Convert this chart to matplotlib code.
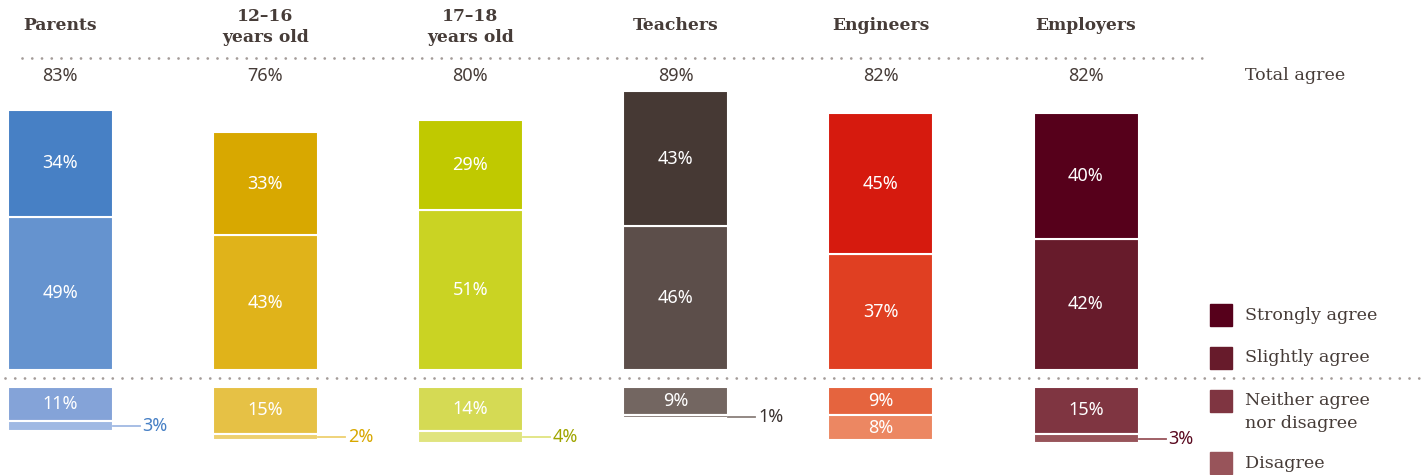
import matplotlib
matplotlib.use("Agg")
import matplotlib.pyplot as plt
from matplotlib.patches import Rectangle

# data
groups = ["Parents", "12\u201316\nyears old", "17\u201318\nyears old", "Teachers", "Engineers", "Employers"]
totals = [83, 76, 80, 89, 82, 82]
strongly = [34, 33, 29, 43, 45, 40]
slightly = [49, 43, 51, 46, 37, 42]
neither = [11, 15, 14, 9, 9, 15]
disagree = [3, 2, 4, 1, 8, 3]
legend_labels = ["Strongly agree", "Slightly agree", "Neither agree\nnor disagree", "Disagree"]

colors = [
    ["#4780c5", "#6593cf", "#84a3d8", "#a0b9e3"],
    ["#d8a800", "#e0b31a", "#e6c145", "#eed070"],
    ["#c0c900", "#cad323", "#d5da54", "#e0e47f"],
    ["#463934", "#5c4e4a", "#736661", "#8a7f7b"],
    ["#d61a0e", "#e03f22", "#e5643e", "#ec8762"],
    ["#56001b", "#671b2b", "#7f3541", "#98545a"],
]
small_label_colors = ["#4780c5", "#d8a800", "#9fa500", "#3a3230", "#d61a0e", "#5a0a20"]

W, H = 1422, 475
PX = 3.13          # pixels per percentage point
BASE = 370         # baseline of agree bars (px from top)
LOW_TOP = 387      # top of disagree bars (px from top)
CX0, STEP = 60, 205.2
BAR_W = 105 / STEP
TXT = "#463c38"
SERIF = "DejaVu Serif"
SANS = "Noto Sans"
NUM_FS = 13

fig = plt.figure(figsize=(W / 100, H / 100), dpi=100)

xlim = (-CX0 / STEP, (W - CX0) / STEP)

# upper axes: agree bars
ax = fig.add_axes([0, (H - BASE) / H, 1, BASE / H])
ax.set_xlim(*xlim)
ax.set_ylim(0, BASE / PX)
ax.axis("off")

# lower axes: neutral / disagree bars
axl = fig.add_axes([0, 0, 1, (H - LOW_TOP) / H])
axl.set_xlim(*xlim)
axl.set_ylim((H - LOW_TOP) / PX, 0)
axl.axis("off")

# overlay in pixel coords
ov = fig.add_axes([0, 0, 1, 1], zorder=-1)
ov.set_xlim(0, W)
ov.set_ylim(H, 0)
ov.axis("off")

for i in range(len(groups)):
    c = colors[i]
    ax.bar(i, slightly[i], BAR_W, color=c[1], edgecolor="white", linewidth=1.5)
    ax.bar(i, strongly[i], BAR_W, bottom=slightly[i], color=c[0], edgecolor="white", linewidth=1.5)
    ax.text(i, slightly[i] / 2, f"{slightly[i]}%", ha="center", va="center",
            color="white", fontsize=NUM_FS, family=SANS)
    ax.text(i, slightly[i] + strongly[i] / 2, f"{strongly[i]}%", ha="center", va="center",
            color="white", fontsize=NUM_FS, family=SANS)
    ax.text(i, (BASE - 76) / PX, f"{totals[i]}%", ha="center", va="center",
            color=TXT, fontsize=NUM_FS, family=SANS)
    hy = 26 if "\n" not in groups[i] else 27
    ax.text(i, (BASE - hy) / PX, groups[i], ha="center", va="center",
            color=TXT, fontsize=12.3, family=SERIF, fontweight="bold", linespacing=1.3)

    axl.bar(i, neither[i], BAR_W, color=c[2], edgecolor="white", linewidth=1.5)
    axl.bar(i, disagree[i], BAR_W, bottom=neither[i], color=c[3], edgecolor="white", linewidth=1.5)
    axl.text(i, neither[i] / 2, f"{neither[i]}%", ha="center", va="center",
             color="white", fontsize=NUM_FS, family=SANS)
    ymid = neither[i] + disagree[i] / 2
    if disagree[i] >= 5:
        axl.text(i, ymid, f"{disagree[i]}%", ha="center", va="center",
                 color="white", fontsize=NUM_FS, family=SANS)
    else:
        x0 = i + BAR_W / 2
        x1 = x0 + 27 / STEP
        axl.plot([x0, x1], [ymid, ymid], color=c[3], lw=1.3)
        axl.text(x1 + 3 / STEP, ymid, f"{disagree[i]}%", ha="left", va="center",
                 color=small_label_colors[i], fontsize=NUM_FS, family=SANS)

# dotted separators
dot = dict(color="#a49c99", lw=2.0, linestyle=(0, (0.01, 3.5)), dash_capstyle="round")
ov.plot([22, 1208], [58, 58], **dot)
ov.plot([5, 1422], [378, 378], **dot)

ov.text(1245, 76, "Total agree", ha="left", va="center", color=TXT, fontsize=12.6, family=SERIF)

# legend
leg_y = [315, 358, 401, 463]
leg_c = colors[5]
for k, lab in enumerate(legend_labels):
    ov.add_patch(Rectangle((1210, leg_y[k] - 11), 22, 22, color=leg_c[k]))
    ty = leg_y[k] if "\n" not in lab else leg_y[k] + 11
    ov.text(1245, ty, lab, ha="left", va="center", color=TXT, fontsize=12.6,
            family=SERIF, linespacing=1.45)

fig.savefig("out.png", dpi=100)
